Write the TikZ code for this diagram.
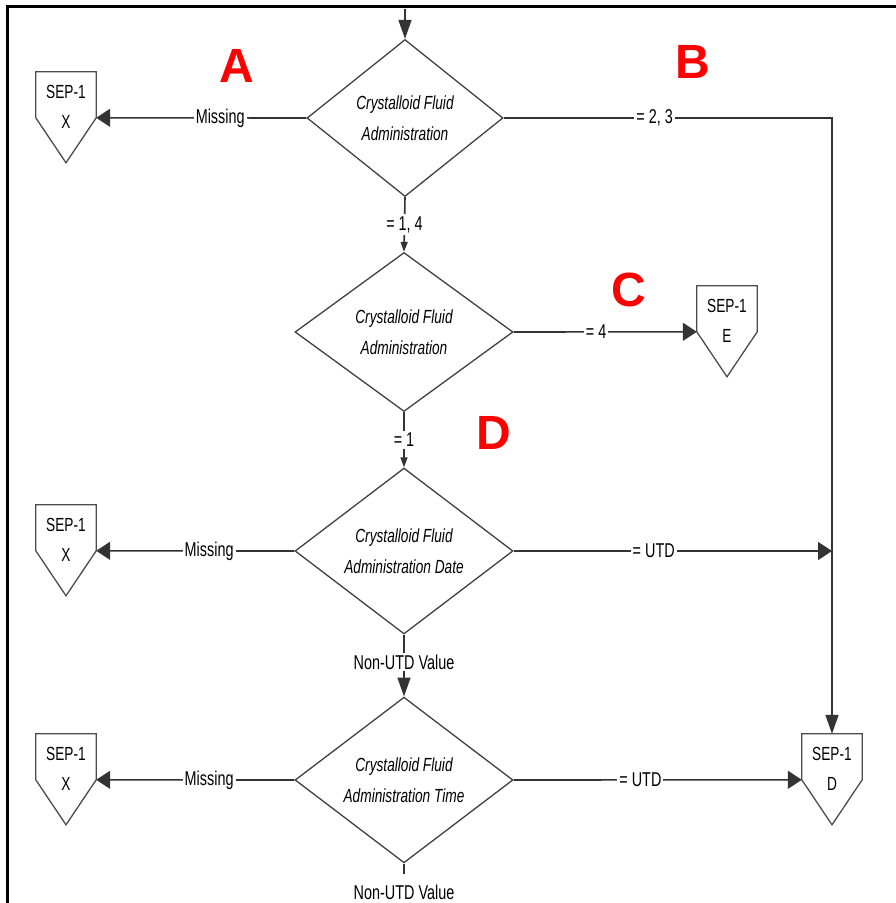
\documentclass[tikz,border=0pt]{standalone}
\usepackage{fontspec}
\setmainfont{Liberation Sans}[FakeStretch=0.72]
\newfontfamily\lettfont{Liberation Sans}
\usetikzlibrary{shapes.geometric,arrows.meta}
\newcommand{\sepshape}[1]{\draw[draw=black!70, line width=1.3pt] (#1.north west) -- (#1.north east) -- ([yshift=-46pt]#1.north east) -- ([yshift=-91pt]#1.north) -- ([yshift=-46pt]#1.north west) -- cycle;}
\begin{document}
\begin{tikzpicture}[x=1pt,y=1pt,
  conn/.style={draw=black!80, line width=1.6pt},
  dia/.style={diamond, draw=black!75, line width=1.3pt, inner sep=0pt, align=center, font=\fontsize{19pt}{31pt}\selectfont\itshape},
  sepbox/.style={rectangle, minimum width=60pt, minimum height=70pt, inner sep=0pt, align=center, font=\fontsize{19pt}{30pt}\selectfont},
  lbl/.style={fill=white, inner sep=2pt, font=\fontsize{20pt}{22pt}\selectfont},
  harrow/.style={-{Triangle[length=14pt,width=18pt]}},
  varrow/.style={-{Triangle[length=19pt,width=13pt]}},
  smallarrow/.style={-{Triangle[length=10pt,width=7pt]}},
  letter/.style={text=red, font=\fontsize{48pt}{50pt}\selectfont\lettfont\bfseries, inner sep=0pt}
]
\useasboundingbox (0,0) rectangle (896,-903);
% frame
\draw[line width=3pt] (7.5,-903) -- (7.5,-6.5) -- (896,-6.5);

% diamonds
\node[dia, minimum width=196pt, minimum height=157pt] (d1) at (405,-118) {Crystalloid Fluid\\Administration};
\node[dia, minimum width=218pt, minimum height=159pt] (d2) at (404,-332) {Crystalloid Fluid\\Administration};
\node[dia, minimum width=218pt, minimum height=166pt] (d3) at (404,-551) {Crystalloid Fluid\\Administration Date};
\node[dia, minimum width=218pt, minimum height=156pt] (d4) at (404,-780) {Crystalloid Fluid\\Administration Time};

% SEP-1 boxes
\node[sepbox] (x1) at (66,-107) {SEP-1\\X};
\node[sepbox] (x2) at (66,-540) {SEP-1\\X};
\node[sepbox] (x3) at (66,-769) {SEP-1\\X};
\node[sepbox] (e) at (727,-321) {SEP-1\\E};
\node[sepbox] (dd) at (832,-769) {SEP-1\\D};
\sepshape{x1}
\sepshape{x2}
\sepshape{x3}
\sepshape{e}
\sepshape{dd}

% letters
\node[letter] (la) at (237,-66) {A};
\node[letter] (lb) at (693,-62) {B};
\node[letter] (lc) at (629,-290) {C};
\node[letter] (ld) at (494,-433) {D};

% connectors
\coordinate (top) at (405,-9);
\draw[conn, varrow] (top) -- (d1.north);

\draw[conn, harrow] (d1.west) -- node[lbl, pos=0.41] {Missing} ([yshift=-46pt]x1.north east);
\draw[conn, varrow] (d1.east) -- node[lbl, pos=0.46] {= 2, 3} (d1.east -| dd.north) -- (dd.north);
\draw[conn, smallarrow] (d1.south) -- node[lbl] {= 1, 4} (d2.north);

\draw[conn, harrow] (d2.east) -- node[lbl, pos=0.45] {= 4} ([yshift=-46pt]e.north west);
\draw[conn, smallarrow] (d2.south) -- node[lbl] {= 1} (d3.north);

\draw[conn, harrow] (d3.west) -- node[lbl, pos=0.43] {Missing} ([yshift=-46pt]x2.north east);
\draw[conn, harrow] (d3.east) -- node[lbl, pos=0.44] {= UTD} (d3.east -| dd.north);
\draw[conn, varrow] (d3.south) -- node[lbl, pos=0.44] {Non-UTD Value} (d4.north);

\draw[conn, harrow] (d4.west) -- node[lbl, pos=0.43] {Missing} ([yshift=-46pt]x3.north east);
\draw[conn, harrow] (d4.east) -- node[lbl, pos=0.44] {= UTD} ([yshift=-46pt]dd.north west);

\coordinate (bot) at (404,-874);
\draw[conn] (d4.south) -- (bot);
\node[inner sep=0pt, font=\fontsize{20pt}{22pt}\selectfont] (botlbl) at (404,-892) {Non-UTD Value};
\end{tikzpicture}
\end{document}
